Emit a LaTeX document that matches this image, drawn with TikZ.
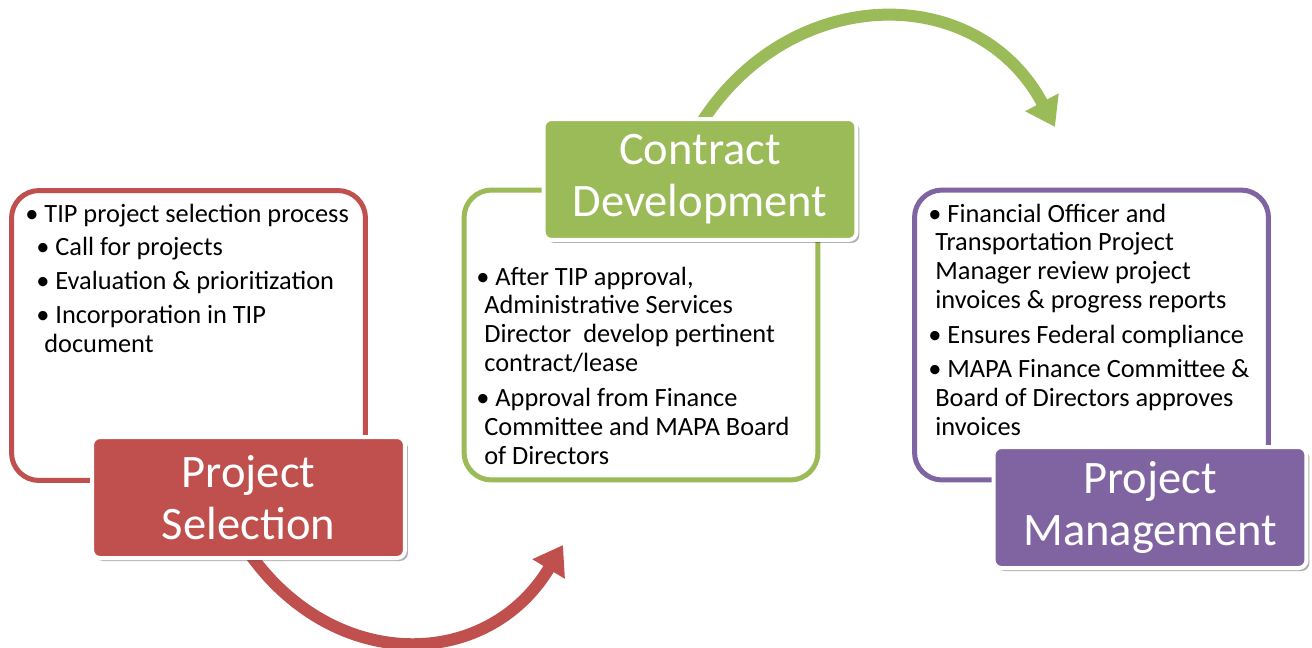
\documentclass[tikz,border=0pt]{standalone}
\usepackage{fontspec}
\setmainfont{Carlito}
\usetikzlibrary{arrows.meta,shadows,backgrounds}
\definecolor{selred}{HTML}{C0504D}
\definecolor{devgreen}{HTML}{9BBB59}
\definecolor{mgmtpurple}{HTML}{8064A2}

\begin{document}
\begin{tikzpicture}[
    x=0.02cm, y=0.02cm,
    panel/.style={rectangle, draw=#1, line width=0.1cm, fill=white, minimum width=7.08cm, minimum height=5.8cm, rounded corners=0.55cm, inner sep=0pt},
    titlebox/.style={rectangle, draw=white, line width=0.08cm, fill=#1, minimum width=6.26cm, minimum height=2.42cm, rounded corners=0.16cm, align=center, text=white, font=\fontsize{26.5}{29.5}\selectfont, drop shadow={shadow xshift=0.06cm, shadow yshift=-0.06cm, opacity=0.3, fill=black}},
    itemtext/.style={anchor=base west, inner sep=0pt, font=\fontsize{15}{16.5}\selectfont},
    arrow/.style={-{Triangle[length=0.56cm, width=0.72cm]}, line width=0.24cm, draw=#1}
]
\useasboundingbox (0,0) rectangle (1312,-647);

\node[panel=selred] (selpanel) at (188.5,-335.5) {};
\node[panel=devgreen] (devpanel) at (641,-335) {};
\node[panel=mgmtpurple] (mgmtpanel) at (1091.5,-335) {};

\node[itemtext] (selitems) at (25,-222) {\parbox[t]{8cm}{%
• TIP project selection process\\[0.1cm]
\hspace*{0.22cm}• Call for projects\\[0.1cm]
\hspace*{0.22cm}• Evaluation \& prioritization\\[0.1cm]
\hspace*{0.22cm}• Incorporation in TIP\\
\hspace*{0.38cm}document}};
\node[itemtext] (devitems) at (476,-285) {\parbox[t]{8cm}{%
• After TIP approval,\\
\hspace*{0.16cm}Administrative Services\\
\hspace*{0.16cm}Director\ \ develop pertinent\\
\hspace*{0.16cm}contract/lease\\[0.12cm]
• Approval from Finance\\
\hspace*{0.16cm}Committee and MAPA Board\\
\hspace*{0.16cm}of Directors}};
\node[itemtext] (mgmtitems) at (928,-222) {\parbox[t]{8cm}{%
• Financial Officer and\\
\hspace*{0.14cm}Transportation Project\\
\hspace*{0.14cm}Manager review project\\
\hspace*{0.14cm}invoices \& progress reports\\[0.12cm]
• Ensures Federal compliance\\[0.1cm]
• MAPA Finance Committee \&\\
\hspace*{0.14cm}Board of Directors approves\\
\hspace*{0.14cm}invoices}};

\node[titlebox=selred] (seltitle) at (248.5,-497.5) {Project\\Selection};
\node[titlebox=devgreen] (devtitle) at (700,-179.5) {Contract\\Development};
\node[titlebox=mgmtpurple] (mgmttitle) at (1150,-507.5) {Project\\Management};

\begin{scope}[on background layer]
\coordinate (devin) at (563,-545);
\coordinate (mgmtin) at (1055,-127);
\draw[arrow=selred] ([yshift=0.16cm]seltitle.south) to[out=-55, in=-121, looseness=1.2] (devin);
\draw[arrow=devgreen] ([yshift=-0.16cm]devtitle.north) to[out=58, in=118, looseness=1.2] (mgmtin);
\end{scope}
\end{tikzpicture}
\end{document}
